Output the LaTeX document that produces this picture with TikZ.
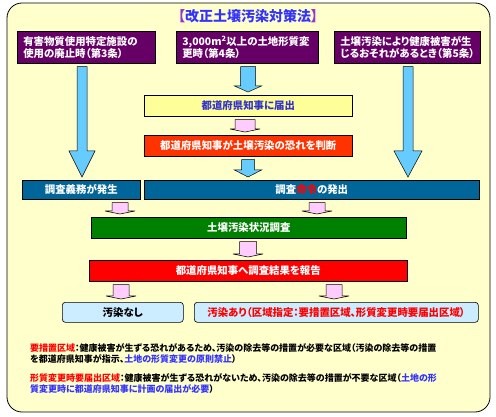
\documentclass[tikz,border=0pt]{standalone}
\usepackage{fontspec}
\setmainfont{Noto Sans CJK JP}[RawFeature=+palt]
\usepackage{xcolor}
\usetikzlibrary{calc}

\definecolor{haikei}{HTML}{FFFFCC}
\definecolor{murasaki}{HTML}{660066}
\definecolor{kakko}{HTML}{9933CC}
\definecolor{ao}{HTML}{3333FF}
\definecolor{konao}{HTML}{3333CC}
\definecolor{usukiiro}{HTML}{FFFF99}
\definecolor{daidai}{HTML}{FF3300}
\definecolor{aiiro}{HTML}{006699}
\definecolor{midori}{HTML}{008000}
\definecolor{aka}{HTML}{FF0000}
\definecolor{mizuiro}{HTML}{CCECFF}
\definecolor{yaao}{HTML}{66CCFF}
\definecolor{yamomo}{HTML}{FFCCFF}

% block arrow: style, x, from node, to node, body half, head half, head length
\newcommand\yajirushi[7]{%
  \filldraw[#1] let \p1=(#2,0 |- #3.south), \p2=(#2,0 |- #4.north) in
    (\x1-#5pt,\y1-3pt) -- (\x1+#5pt,\y1-3pt) -- (\x1+#5pt,\y2+3pt+#7pt)
    -- (\x1+#6pt,\y2+3pt+#7pt) -- (\x1,\y2+3pt) -- (\x1-#6pt,\y2+3pt+#7pt)
    -- (\x1-#5pt,\y2+3pt+#7pt) -- cycle;}

\begin{document}
\begin{tikzpicture}[x=1pt,y=-1pt,
  hako/.style={draw=black,line width=0.6pt,anchor=north west,inner sep=0pt,
               align=center,font=\bfseries\fontsize{10.4}{12}\selectfont},
  ue/.style={hako,fill=murasaki,text=white,align=left,inner xsep=6pt,
             minimum height=32pt},
  kekka/.style={hako,fill=mizuiro,rounded corners=3pt,minimum height=20pt},
  chu/.style={anchor=north west,inner sep=0pt,align=left,
              font=\bfseries\fontsize{9}{11.2}\selectfont},
  ya/.style={draw=black,line width=0.5pt,fill=yaao},
  momo/.style={draw=black,line width=0.5pt,fill=yamomo}]
  \useasboundingbox (0,0) rectangle (496,417);
  \draw[fill=haikei,line width=0.8pt,rounded corners=15pt] (7,3) rectangle (490,412);
  \node[font=\bfseries\fontsize{14}{16}\selectfont,text=ao] (title) at (248,16)
    {\textcolor{kakko}{【}改正土壌汚染対策法\textcolor{kakko}{】}};

  \node[ue,text width=126pt] (jo3) at (17,31) {有害物質使用特定施設の\\使用の廃止時（第3条）};
  \node[ue,text width=130pt] (jo4) at (176,31) {3,000m\textsuperscript{2}以上の土地形質変\\更時（第4条）};
  \node[ue,text width=134pt] (jo5) at (334,31) {土壌汚染により健康被害が生\\じるおそれがあるとき（第5条）};

  \node[hako,fill=usukiiro,text=konao,minimum width=208pt,minimum height=21pt] (todoke) at (144,95) {都道府県知事に届出};
  \node[hako,fill=daidai,text=white,minimum width=208pt,minimum height=21pt] (handan) at (144,135) {都道府県知事が土壌汚染の恐れを判断};
  \node[hako,fill=aiiro,text=white,minimum width=118pt,minimum height=19pt] (gimu) at (22,180) {調査義務が発生};
  \node[hako,fill=aiiro,text=white,minimum width=335pt,minimum height=19pt] (meirei) at (144,180) {調査\textcolor{aka}{命令}の発出};
  \node[hako,fill=midori,text=white,minimum width=315pt,minimum height=21pt] (chosa) at (91,217) {土壌汚染状況調査};
  \node[hako,fill=aka,text=white,minimum width=318pt,minimum height=21pt] (hokoku) at (89,260) {都道府県知事へ調査結果を報告};
  \node[kekka,minimum width=121pt] (nashi) at (62,302) {汚染なし};
  \node[kekka,text=aka,minimum width=284pt] (ari) at (194,302) {汚染あり（区域指定：要措置区域、形質変更時要届出区域）};

  \node[chu] (setsu1) at (30,343) {\textcolor{aka}{要措置区域}：健康被害が生ずる恐れがあるため、汚染の除去等の措置が必要な区域（汚染の除去等の措置\\を都道府県知事が指示、\textcolor{ao}{土地の形質変更の原則禁止}）};
  \node[chu] (setsu2) at (30,373) {\textcolor{aka}{形質変更時要届出区域}：健康被害が生ずる恐れがないため、汚染の除去等の措置が不要な区域（\textcolor{ao}{土地の形}\\\textcolor{ao}{質変更時に都道府県知事に計画の届出が必要}）};

  % arrows
  \yajirushi{ya}{82}{jo3}{gimu}{5}{13}{26}
  \yajirushi{ya}{408}{jo5}{meirei}{5}{14}{26}
  \yajirushi{ya}{248}{jo4}{todoke}{7.5}{13.5}{6}
  \yajirushi{momo}{245}{todoke}{handan}{10}{15}{3}
  \yajirushi{ya}{248}{handan}{meirei}{6.5}{13.5}{7}
  \yajirushi{momo}{120}{gimu}{chosa}{8}{15}{3}
  \yajirushi{momo}{317}{meirei}{chosa}{8}{15}{3}
  \yajirushi{momo}{248}{chosa}{hokoku}{8.5}{15}{3}
  \yajirushi{momo}{121}{hokoku}{nashi}{8}{15}{3}
  \yajirushi{momo}{334}{hokoku}{ari}{8}{15}{3}
\end{tikzpicture}
\end{document}
